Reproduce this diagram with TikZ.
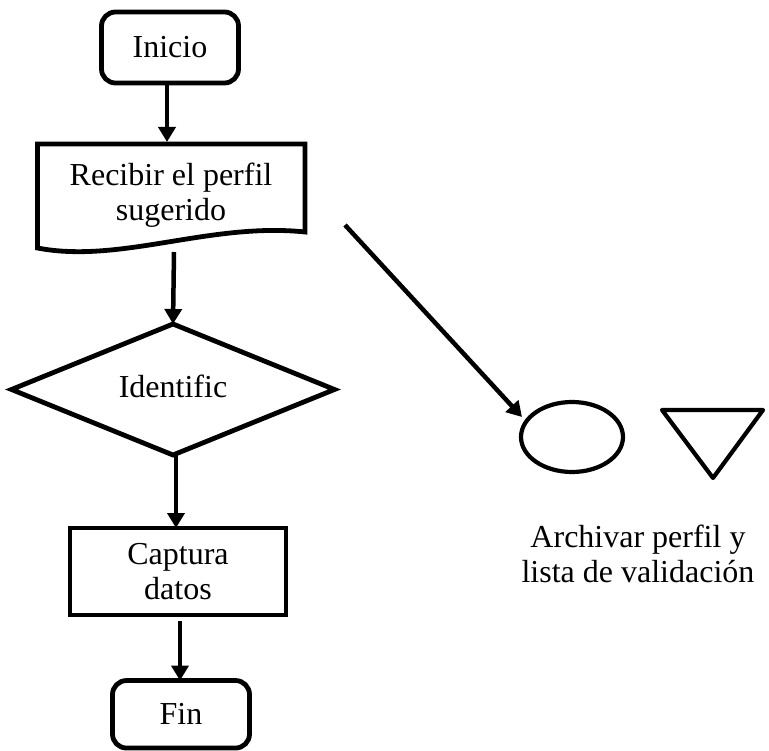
\documentclass[tikz,border=0pt]{standalone}
\usepackage{fontspec}
\setmainfont{Liberation Serif}
\usetikzlibrary{shapes.geometric,arrows.meta}
\begin{document}
\begin{tikzpicture}[x=1pt,y=-1pt,
  every node/.style={font=\fontsize{32}{35}\selectfont,inner sep=0pt,outer sep=0pt,align=center},
  shapeline/.style={draw=black,line width=4.8pt},
  terminal/.style={shapeline,rounded corners=14pt,minimum width=137pt,minimum height=#1},
  process/.style={shapeline,minimum width=216pt,minimum height=87pt},
  decision/.style={shapeline,diamond,minimum width=323pt,minimum height=131pt},
  flow/.style={line width=4.5pt,-{Triangle[length=15pt,width=17pt]}}]
\useasboundingbox (0,0) rectangle (769,751);

% terminals, process boxes and decision
\node[terminal=71pt] (inicio) at (170,47.5) {Inicio};
\node (doc) at (171,195.5) {Recibir el perfil\\sugerido};
\node[decision] (diam) at (173,389.5) {};
\node at (173,386.5) {Identific};
\node[process] (capt) at (178,571.5) {Captura\\datos};
\node[terminal=67.5pt] (fin) at (181,714.3) {Fin};

% document symbol with wavy lower edge
\draw[shapeline,line join=miter] (37.5,248) -- (37.5,144) -- (305,144) -- (305,232)
  .. controls (210,222) and (120,264) .. (37.5,248) -- cycle;
\coordinate (doctop) at (167,142);
\coordinate (docbot) at (174,252);

% storage symbols
\node[draw=black,line width=4.2pt,ellipse,minimum width=102pt,minimum height=70pt] (ell) at (572,437) {};
\draw[line width=4.2pt,line join=round] (662,410) -- (763,410) -- (713,478) -- cycle;
\node (arch) at (638,554) {Archivar perfil y\\lista de validación};

% connectors
\draw[flow] (inicio.south -| doctop) -- (doctop);
\draw[flow] (docbot) -- (diam.north);
\draw[flow] ([xshift=3pt]diam.south) -- ([xshift=3pt]diam.south |- capt.north);
\draw[flow] ([xshift=2pt,yshift=-6pt]capt.south) -- ([xshift=2pt]capt.south |- fin.north);
\coordinate (src) at (345,225);
\coordinate (tip) at (522,417);
\draw[flow] (src) -- (tip);
\end{tikzpicture}
\end{document}
